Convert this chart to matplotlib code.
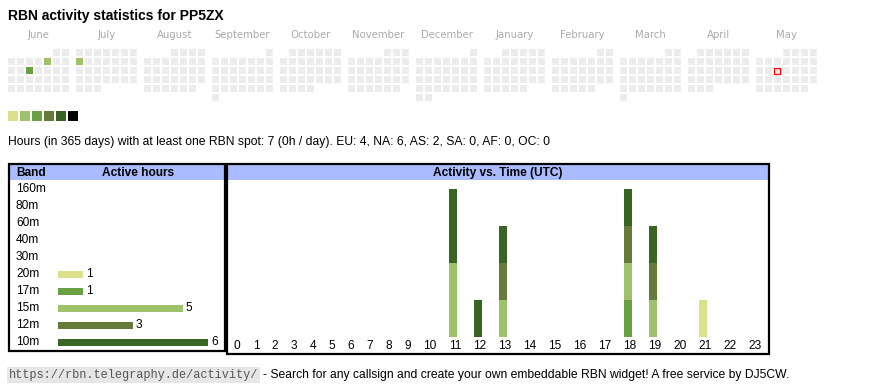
import calendar
import datetime as dt
import numpy as np
import matplotlib
matplotlib.use("Agg")
import matplotlib.pyplot as plt
from matplotlib.patches import Rectangle

plt.rcParams['font.family'] = ['Liberation Sans', 'DejaVu Sans']

# ---- data ----
title = "RBN activity statistics for PP5ZX"
months = [(2024, 6), (2024, 7), (2024, 8), (2024, 9), (2024, 10), (2024, 11),
          (2024, 12), (2025, 1), (2025, 2), (2025, 3), (2025, 4), (2025, 5)]
active_days = ["2024-06-07", "2024-06-12", "2024-07-08"]
active_level = [1, 2, 1]          # index into level_colors
today = "2025-05-14"
level_colors = ['#dbe08a', '#9dc26b', '#6aa044', '#667a3a', '#3a6426', '#000000']

summary = ("Hours (in 365 days) with at least one RBN spot: 7 (0h / day). "
           "EU: 4, NA: 6, AS: 2, SA: 0, AF: 0, OC: 0")

bands = ['160m', '80m', '60m', '40m', '30m', '20m', '17m', '15m', '12m', '10m']
band_hours = [0, 0, 0, 0, 0, 1, 1, 5, 3, 6]
band_colors = ['#cccccc', '#cccccc', '#cccccc', '#cccccc', '#cccccc',
               '#dbe08a', '#6aa044', '#9dc26b', '#667a3a', '#3a6426']

hours = list(range(24))
cnt_20m = [0]*21 + [1] + [0]*2
cnt_17m = [0]*18 + [1] + [0]*5
cnt_15m = [0]*11 + [2, 0, 1] + [0]*4 + [1, 1] + [0]*4
cnt_12m = [0]*13 + [1] + [0]*4 + [1, 1] + [0]*4
cnt_10m = [0]*11 + [2, 1, 1] + [0]*4 + [1, 1] + [0]*4
stack = [('20m', cnt_20m), ('17m', cnt_17m), ('15m', cnt_15m),
         ('12m', cnt_12m), ('10m', cnt_10m)]

footer_url = "https://rbn.telegraphy.de/activity/"
footer_txt = "- Search for any callsign and create your own embeddable RBN widget! A free service by DJ5CW."

# ---- figure ----
W, H = 870, 390
fs = 8.6
fig = plt.figure(figsize=(W/100, H/100), dpi=100)
ax = fig.add_axes([0, 0, 1, 1])
ax.set_xlim(0, W)
ax.set_ylim(H, 0)
ax.axis('off')


def px_axes(x0, y0, x1, y1):
    a = fig.add_axes([x0/W, 1-y1/H, (x1-x0)/W, (y1-y0)/H])
    a.axis('off')
    return a


ax.text(8, 16, title, fontsize=10, fontweight='bold', va='center', ha='left')

# calendar heatmap
lvl = {dt.date.fromisoformat(d): l for d, l in zip(active_days, active_level)}
tday = dt.date.fromisoformat(today)
for mi, (y, m) in enumerate(months):
    x0 = 8 + 68*mi
    ax.text(x0+30.5, 35, calendar.month_name[m], fontsize=7.3, color='#aaaaaa',
            ha='center', va='center', family='DejaVu Sans')
    first = dt.date(y, m, 1).weekday()
    for d in range(1, calendar.monthrange(y, m)[1]+1):
        day = dt.date(y, m, d)
        row, col = divmod(first+d-1, 7)
        fc = level_colors[lvl[day]] if day in lvl else '#ececec'
        if day == tday:
            ax.add_patch(Rectangle((x0+9*col+0.5, 49+9*row+0.5), 6, 6, facecolor='#ececec',
                                   edgecolor='red', lw=0.9))
        else:
            ax.add_patch(Rectangle((x0+9*col, 49+9*row), 7, 7, facecolor=fc, lw=0))

for i, c in enumerate(level_colors):
    ax.add_patch(Rectangle((8+12*i, 111), 10, 10, facecolor=c, lw=0))

ax.text(8, 142, summary, fontsize=8.75, va='center', ha='left')

# boxes
for (x0, y0, x1, y1) in [(9, 164, 225, 351), (227, 164, 769, 354)]:
    ax.add_patch(Rectangle((x0+1, 165), x1-x0-2, 15, facecolor='#aabbff', lw=0))
    ax.add_patch(Rectangle((x0, y0), x1-x0, y1-y0, facecolor='none',
                           edgecolor='black', lw=1.6))
ax.text(16, 173, "Band", fontsize=fs, fontweight='bold', va='center')
ax.text(138, 173, "Active hours", fontsize=fs, fontweight='bold', va='center', ha='center')
ax.text(498, 173, "Activity vs. Time (UTC)", fontsize=fs, fontweight='bold',
        va='center', ha='center')

# band bars: 25 px per hour, bars start at x=58, rows 17 px apart from y=189
bx = px_axes(10, 181, 224, 350)
bx.set_xlim(-48/25, 166/25)
bx.set_ylim(161/17, -8/17)
ypos = np.arange(len(bands))
bx.barh(ypos, band_hours, height=7/17, color=band_colors)
for i, (b, v) in enumerate(zip(bands, band_hours)):
    bx.text(-42/25, i, b, fontsize=fs, va='center', ha='left')
    if v > 0:
        bx.text(v + 3/25, i, str(v), fontsize=fs, va='center', ha='left')

# activity vs time: column widths like the html table (19 px single, 25 px double digits)
widths = np.where(np.array(hours) < 10, 19, 25)
centers = 237 + np.concatenate([[0], np.cumsum((widths[:-1]+widths[1:])/2)])
tx = px_axes(228, 181, 768, 340)
tx.set_xlim(228, 768)
tx.set_ylim(-3.3/37, 155.7/37)
bottom = np.zeros(24)
for name, cnt in stack:
    tx.bar(centers-2, cnt, width=8, bottom=bottom,
           color=band_colors[bands.index(name)], lw=0)
    bottom += np.array(cnt)
for h, c in zip(hours, centers):
    tx.text(c, -9.3/37, str(h), fontsize=fs, ha='center', va='center', clip_on=False)

# footer
ax.text(9, 375, footer_url, fontsize=8.6, family='Liberation Mono', color='#555555',
        va='center', ha='left',
        bbox=dict(boxstyle='square,pad=0.15', facecolor='#e6e6e6', edgecolor='none'))
ax.text(263, 375, footer_txt, fontsize=8.75, va='center', ha='left')

fig.savefig("out.png", dpi=100)
